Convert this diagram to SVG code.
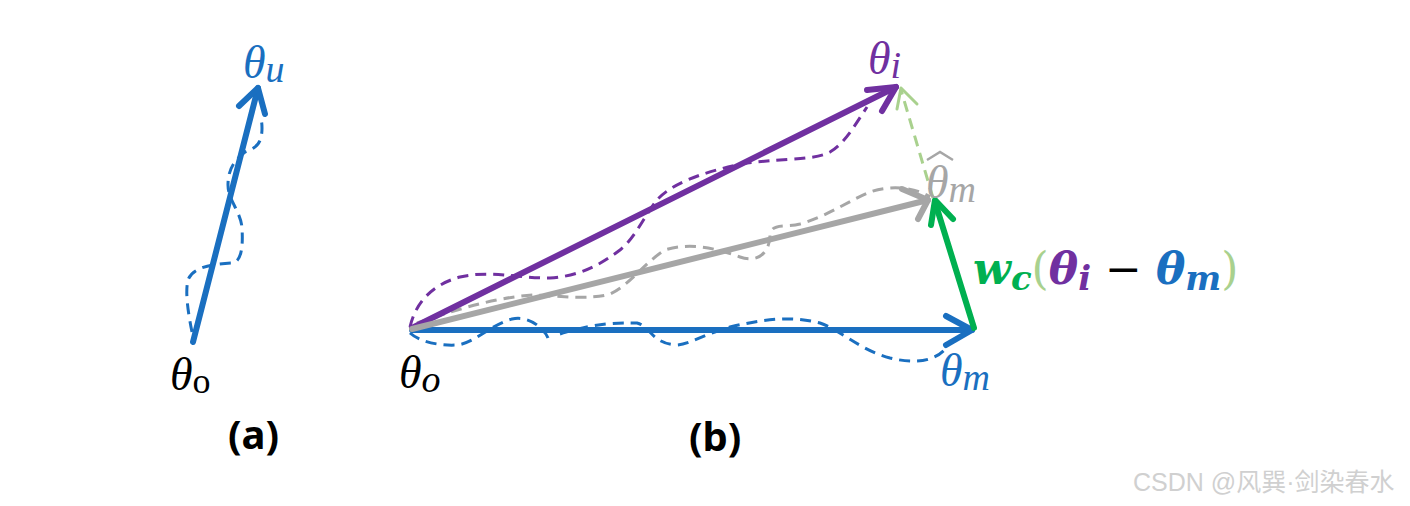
<svg xmlns="http://www.w3.org/2000/svg" width="1410" height="506" viewBox="0 0 1410 506">
<style>
.m{font-family:"Liberation Serif","DejaVu Serif",serif;font-style:italic}
.mb{font-family:"DejaVu Serif","Liberation Serif",serif;font-style:italic;font-weight:bold}
.cap{font-family:"Comic Sans MS","Noto Sans","Liberation Sans",sans-serif;font-weight:bold;font-size:40px;fill:#000}
.wm{font-family:"Liberation Sans","Noto Sans CJK SC",sans-serif;font-size:25px;fill:#d0d0d0}
.dash{fill:none;stroke-width:3;stroke-dasharray:11 7}
.main{fill:none;stroke-width:6;stroke-linecap:round;stroke-linejoin:round}
</style>
<rect width="1410" height="506" fill="#fff"/>

<g id="panel-a">
  <g id="a-dashed">
    <path class="dash" stroke="#1a6fc0" d="M192,332 C188,312 185,292 188,280 C192,268 210,264 232,263 C242,262 243,245 242,228 C241,212 228,200 228,185 C228,172 232,162 245,152 C255,148 262,145 262,128 C262,122 261,118 260,116"/>
  </g>
  <g id="a-arrow">
    <path class="main" stroke="#1a6fc0" d="M193,342 L258,88"/>
    <path class="main" stroke="#1a6fc0" d="M239,106 L258,88 L265,114"/>
  </g>
  <g id="a-labels">
    <text x="243" y="78" class="m" font-size="46" fill="#1a6fc0">θ<tspan font-size="38" dy="4">u</tspan></text>
    <text x="170" y="390" class="m" font-size="46" fill="#000">θ<tspan font-size="36" dy="3" font-style="normal">o</tspan></text>
    <text x="228" y="449" class="cap">(a)</text>
  </g>
</g>

<g id="connectors">
  <path class="dash" stroke="#1a6fc0" d="M410,333 C420,342 440,346 457,345 C475,343 490,325 512,319 C530,315 545,330 548,338 M560,334 C580,328 600,322 637,323 C650,326 652,344 677,345 C690,344 700,336 730,327 C760,320 790,315 820,323 C840,330 860,350 890,358 C915,364 935,362 947,347"/>
  <path class="dash" stroke="#7030a0" d="M410,327 C415,305 430,285 460,277 C490,270 515,278 550,278 C580,276 600,265 620,250 C635,238 645,215 657,200 C670,185 700,172 747,163 C790,158 815,160 830,152 C845,143 855,125 867,107"/>
  <path class="dash" stroke="#a6a6a6" d="M417,323 C450,312 490,298 533,295 C560,296 590,300 610,294 C630,285 645,262 665,250 C690,242 715,248 740,257 C760,264 770,250 770,235 C772,222 785,228 800,224 C830,215 850,200 870,192 C890,185 915,187 930,197"/>

  <path class="main" stroke="#1a6fc0" d="M412,330 L972,330"/>
  <path class="main" stroke="#1a6fc0" d="M946,316 L972,330 L946,345"/>

  <path class="main" stroke="#7030a0" d="M412,328 L896,87"/>
  <path class="main" stroke="#7030a0" d="M867,90 L896,87 L882,111"/>

  <path class="main" stroke="#a6a6a6" d="M412,329 L928,200"/>
  <path class="main" stroke="#a6a6a6" d="M902,189 L928,200 L918,219"/>

  <path class="dash" stroke="#a9d18e" stroke-width="3" stroke-dasharray="7 4" d="M933,198 L901,90"/>
  <path fill="none" stroke="#a9d18e" stroke-width="3" stroke-linecap="round" stroke-linejoin="round" d="M897,109 L901,88 L917,104"/>

  <path class="main" stroke="#00b050" d="M974,328 L935,202"/>
  <path class="main" stroke="#00b050" d="M931,225 L935,200 L953,219"/>
</g>

<g id="label-theta-o-b"><text x="399" y="388" class="m" font-size="46" fill="#000">θ<tspan font-size="38" dy="4">o</tspan></text></g>
<g id="label-theta-i"><text x="868" y="74" class="m" font-size="46" fill="#7030a0">θ<tspan font-size="38" dy="4">i</tspan></text></g>
<g id="label-theta-hat-m">
  <text x="926" y="198" class="m" font-size="46" fill="#a6a6a6">θ<tspan font-size="38" dy="4">m</tspan></text>
  <path d="M927,160 L940,152 L953,160" fill="none" stroke="#a6a6a6" stroke-width="2.5"/>
</g>
<g id="label-theta-m"><text x="940" y="386" class="m" font-size="46" fill="#1a6fc0">θ<tspan font-size="38" dy="4">m</tspan></text></g>
<g id="label-wc">
  <text x="973" y="284" class="mb" font-size="44" fill="#00b050">w<tspan font-size="34" dy="6">c</tspan><tspan dy="-6" font-weight="normal" font-style="normal" fill="#a9d18e">(</tspan><tspan fill="#7030a0">θ</tspan><tspan font-size="34" dy="6" fill="#7030a0">i</tspan><tspan dy="-6" font-weight="normal" font-style="normal" fill="#000"> − </tspan><tspan fill="#1a6fc0">θ</tspan><tspan font-size="34" dy="6" fill="#1a6fc0">m</tspan><tspan dy="-6" font-weight="normal" font-style="normal" fill="#a9d18e">)</tspan></text>
</g>
<g id="caption-b"><text x="689" y="451" class="cap">(b)</text></g>
<text x="1133" y="491" class="wm">CSDN @风巽·剑染春水</text>
</svg>
